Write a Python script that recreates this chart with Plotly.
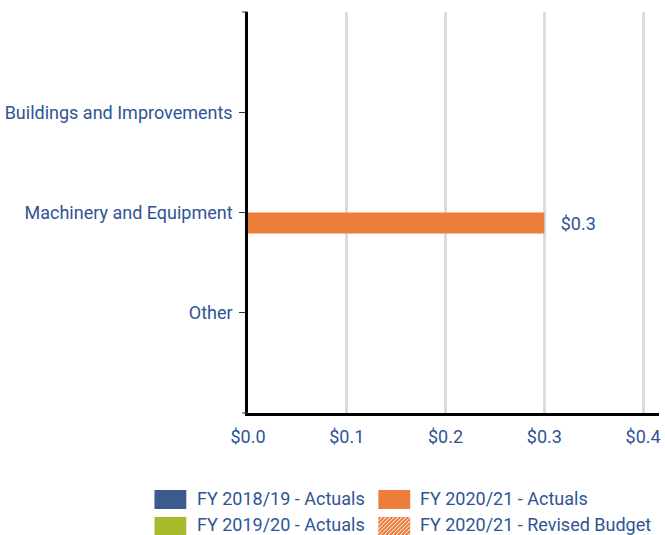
import plotly.graph_objects as go

categories = ["Buildings and Improvements", "Machinery and Equipment", "Other"]
series_names = ["FY 2018/19 - Actuals", "FY 2019/20 - Actuals",
                "FY 2020/21 - Actuals", "FY 2020/21 - Revised Budget"]
fy1819_actuals = [0.0, 0.0, 0.0]
fy1920_actuals = [0.0, 0.0, 0.0]
fy2021_actuals = [0.0, 0.3, 0.0]
fy2021_budget = [0.0, 0.0, 0.0]
x_ticks = [0.0, 0.1, 0.2, 0.3, 0.4]

BLUE = "#3A5B8C"
GREEN = "#A9B92C"
ORANGE = "#ED7D3A"
TXT = "#2F5496"
FONT = "Roboto"
FS = 18

W, H = 665, 535
L, R, T, B = 248, 4, 12, 122
PW, PH = W - L - R, H - T - B

def px(x):
    return (x - L) / PW

def py(y):
    return (T + PH - y) / PH

def labels(vals):
    return [("   $%.1f" % v) if v else "" for v in vals]

fig = go.Figure()
data = [fy1819_actuals, fy1920_actuals, fy2021_actuals, fy2021_budget]
colors = [BLUE, GREEN, ORANGE, ORANGE]
for i, (name, vals, col) in enumerate(zip(series_names, data, colors)):
    if i == 3:
        marker = dict(color="white", line=dict(width=0),
                      pattern=dict(shape="/", fgcolor=ORANGE, bgcolor="white"))
    else:
        marker = dict(color=col, line=dict(width=0))
    fig.add_trace(go.Bar(
        x=vals, y=categories, orientation="h", name=name, marker=marker,
        text=labels(vals), textposition="outside", constraintext="none",
        textfont=dict(family=FONT, size=FS, color=TXT),
        cliponaxis=False, showlegend=False))

fig.update_layout(
    width=W, height=H,
    margin=dict(l=L, r=R, t=T, b=B, pad=0),
    barmode="group", bargap=0.16, bargroupgap=0,
    plot_bgcolor="white", paper_bgcolor="white",
    font=dict(family=FONT, size=FS, color=TXT),
    xaxis=dict(range=[0, PW / (397 / 0.4)], tickvals=x_ticks,
               ticktext=["$%.1f" % v for v in x_ticks],
               showgrid=True, gridcolor="#DCDCDC", gridwidth=2.5,
               zeroline=False, showline=True, linecolor="black", linewidth=2.5,
               ticks="", ticklabelstandoff=6, tickfont=dict(size=FS, color=TXT)),
    yaxis=dict(type="category", categoryorder="array", categoryarray=categories,
               range=[3, -1], showgrid=False, zeroline=False,
               showline=True, linecolor="black", linewidth=2.5,
               ticks="outside", ticklen=6, tickcolor="#333", tickwidth=1,
               ticklabelstandoff=3,
               tickfont=dict(size=FS, color=TXT)),
)

shapes = []
for yy in (T, T + PH):
    shapes.append(dict(type="line", xref="paper", yref="paper",
                       x0=px(L - 6), x1=px(L), y0=py(yy), y1=py(yy),
                       line=dict(color="#333", width=1)))

legend_items = [
    (154, 490, 195, 498, BLUE, series_names[0], False),
    (154, 517, 195, 524, GREEN, series_names[1], False),
    (379, 490, 419, 498, ORANGE, series_names[2], False),
    (379, 517, 419, 524, ORANGE, series_names[3], True),
]
annotations = []
for sx, sy, tx, ty, col, name, hatch in legend_items:
    x0, x1, y0, y1 = sx, sx + 32, sy, sy + 19
    shapes.append(dict(type="rect", xref="paper", yref="paper",
                       x0=px(x0), x1=px(x1), y0=py(y1), y1=py(y0),
                       fillcolor=col, line=dict(width=0)))
    if hatch:
        c = x0 + y0
        while c < x1 + y1:
            xa = max(x0, c - y1)
            xb = min(x1, c - y0)
            if xb > xa:
                shapes.append(dict(type="line", xref="paper", yref="paper",
                                   x0=px(xa), y0=py(c - xa), x1=px(xb), y1=py(c - xb),
                                   line=dict(color="white", width=1)))
            c += 4
    annotations.append(dict(text=name, xref="paper", yref="paper",
                            x=px(tx), y=py(ty), xanchor="left", yanchor="middle",
                            showarrow=False, font=dict(family=FONT, size=FS, color=TXT)))

fig.update_layout(shapes=shapes, annotations=annotations)
fig.write_html("out.html", config={"displayModeBar": False},
               post_script="document.body.style.margin='0px';"
                           "document.body.style.overflow='hidden';")
